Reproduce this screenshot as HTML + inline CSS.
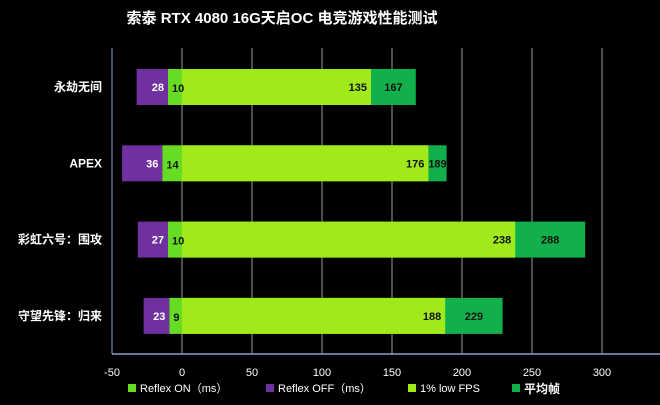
<!DOCTYPE html>
<html><head><meta charset="utf-8"><style>
body{margin:0;background:#000;}
svg{display:block;font-family:"Liberation Sans","Noto Sans CJK SC",sans-serif;}
</style></head><body>
<svg id="chart" width="660" height="405" viewBox="0 0 660 405">
<rect width="660" height="405" fill="#000"/>
<text x="282" y="23" fill="#fff" font-size="15" font-weight="bold" text-anchor="middle">索泰 RTX 4080 16G天启OC 电竞游戏性能测试</text>
<g id="grid"></g><g id="bars"></g><g id="labels"></g>
<g font-size="11" fill="#fff">
<rect x="128" y="384" width="8" height="8" fill="#66dd22"/>
<text x="140" y="392" fill="#fff">Reflex ON（ms）</text>
<rect x="266" y="384" width="8" height="8" fill="#7030a0"/>
<text x="278" y="392" fill="#fff">Reflex OFF（ms）</text>
<rect x="408" y="384" width="8" height="8" fill="#a0ea1c"/>
<text x="420" y="392" fill="#fff">1% low FPS</text>
<rect x="512" y="384" width="8" height="8" fill="#12b04a"/>
<text x="524" y="393" fill="#fff" font-size="12" font-weight="bold">平均帧</text>
</g>
</svg>
<script>
const categories=["永劫无间","APEX","彩虹六号：围攻","守望先锋：归来"];
const reflexOn=[10,14,10,9];
const reflexOff=[28,36,27,23];
const lowFps=[135,176,238,188];
const avgFps=[167,189,288,229];
const ticks=[-50,0,50,100,150,200,250,300];
const NS="http://www.w3.org/2000/svg";
const x=v=>182+v*1.4;
const rowY=i=>87+i*76.3;
const bh=36;
function mk(tag,attrs,parent,txt){const e=document.createElementNS(NS,tag);for(const k in attrs)e.setAttribute(k,attrs[k]);if(txt!==undefined)e.textContent=txt;parent.appendChild(e);return e;}
const grid=document.getElementById('grid'),bars=document.getElementById('bars'),labels=document.getElementById('labels');
ticks.forEach(t=>{
  const l=mk('line',{x1:x(t),x2:x(t),y1:48,y2:354,stroke:t===-50?'#8da0c8':'#9a9a9a','stroke-width':1},grid);
  
  
  const tx=mk('text',{x:x(t),y:376,fill:'#fff','font-size':11,'text-anchor':'middle'},grid,String(t));
  
  
});
const ax=mk('line',{x1:x(-50),x2:660,y1:354,y2:354,stroke:'#8da0c8','stroke-width':1.5},grid);


categories.forEach((c,i)=>{
  const cy=rowY(i),y0=cy-bh/2;
  const segs=[
    {a:0,b:avgFps[i],f:'#12b04a',n:'bar-avg-fps'},
    {a:0,b:lowFps[i],f:'#a0ea1c',n:'bar-low-fps'},
    {a:-reflexOn[i]-reflexOff[i]*0.8,b:-reflexOn[i],f:'#7030a0',n:'bar-reflex-off'},
    {a:-reflexOn[i],b:0,f:'#66dd22',n:'bar-reflex-on'}];
  segs.forEach(s=>{
    const r=mk('rect',{x:x(s.a),y:y0,width:x(s.b)-x(s.a),height:bh,fill:s.f},bars);
    
    
  });
  const cl=mk('text',{x:102,y:cy+4,fill:'#fff','font-size':12,'font-weight':'bold','text-anchor':'end'},labels,c);
  
  
  const offL=x(-reflexOn[i]-reflexOff[i]*0.8), onL=x(-reflexOn[i]);
  const t1=mk('text',{x:onL-4,y:cy+4,fill:'#fff','font-size':11,'font-weight':'bold','text-anchor':'end'},labels,String(reflexOff[i]));
  
  
  const t2=mk('text',{x:onL+4,y:cy+5,fill:'#111','font-size':11,'font-weight':'bold'},labels,String(reflexOn[i]));
  
  
  const t3=mk('text',{x:x(lowFps[i])-4,y:cy+4,fill:'#111','font-size':11,'font-weight':'bold','text-anchor':'end'},labels,String(lowFps[i]));
  
  
  const t4=mk('text',{x:(x(lowFps[i])+x(avgFps[i]))/2,y:cy+4,fill:'#111','font-size':11,'font-weight':'bold','text-anchor':'middle'},labels,String(avgFps[i]));
  
  
});
</script>
</body></html>
